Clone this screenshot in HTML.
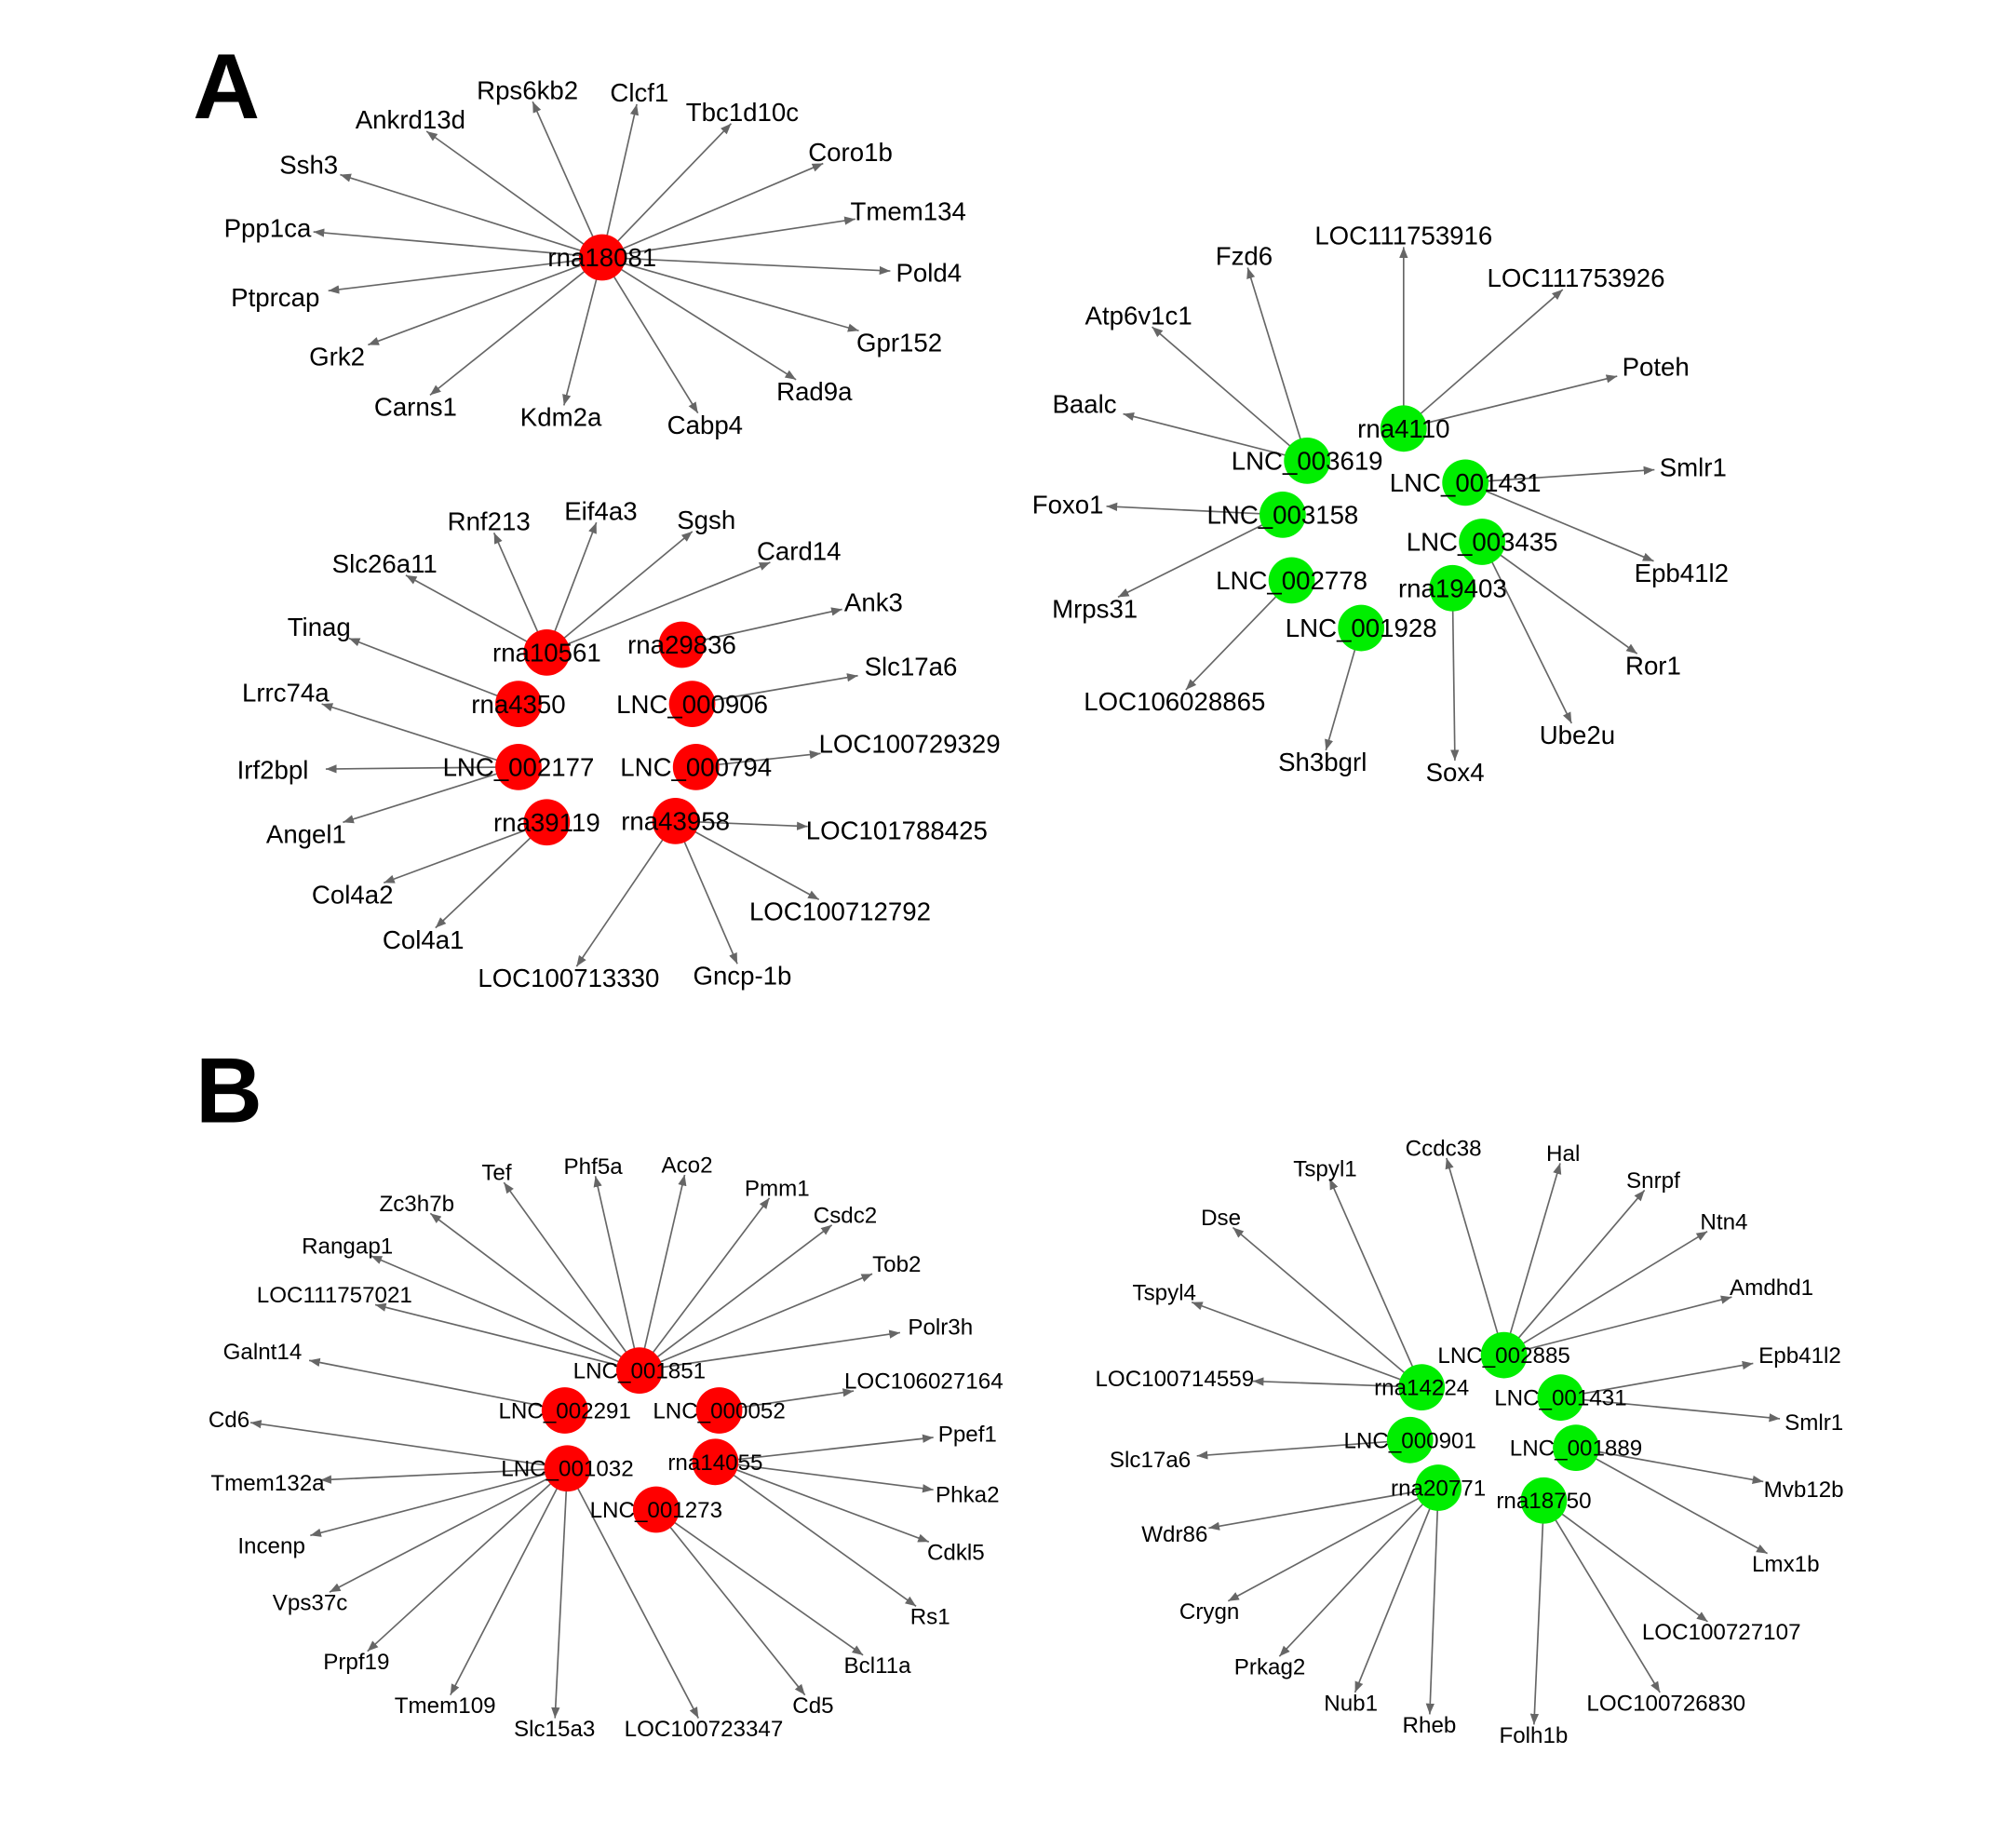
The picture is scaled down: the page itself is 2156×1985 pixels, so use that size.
<!DOCTYPE html>
<html><head><meta charset="utf-8"><style>
html,body{margin:0;padding:0;background:#fff;}
svg{display:block;}
text{font-family:"Liberation Sans",Arial,sans-serif;fill:#000;}
</style></head><body>
<svg id="net" width="2156" height="1985" viewBox="0 0 1560 1436" preserveAspectRatio="none" xmlns="http://www.w3.org/2000/svg">
<defs><marker id="arr" viewBox="0 0 10 10" refX="10" refY="5" markerWidth="7" markerHeight="7" orient="auto"><path d="M0,1 L10,5 L0,9 z" fill="#666"/></marker></defs>
<text x="150" y="92" font-size="72" font-weight="bold">A</text>
<text x="152" y="872" font-size="72" font-weight="bold">B</text>
<g id="edges"></g><g id="nodes"></g><g id="labels"></g>
</svg>
<script>
// hubs: name, x, y, color, fontSize
const hubNames=["rna18081","rna10561","rna29836","rna4350","LNC_000906","LNC_002177","LNC_000794","rna39119","rna43958",
"rna4110","LNC_003619","LNC_001431","LNC_003158","LNC_003435","LNC_002778","rna19403","LNC_001928",
"LNC_001851","LNC_002291","LNC_000052","LNC_001032","rna14055","LNC_001273",
"LNC_002885","rna14224","LNC_001431 ","LNC_000901","LNC_001889","rna20771","rna18750"];
const hubX=[468,425,530,403,538,403,541,425,525,1091,1016,1139,997,1152,1004,1129,1058,497,439,559,441,556,510,1169,1105,1213,1096,1225,1118,1200];
const hubY=[200,507,501,547,547,596,596,639,638,333,358,375,400,421,451,457,488,1065,1096,1096,1141,1136,1173,1053,1078,1086,1119,1125,1156,1166];
const hubColor=["r","r","r","r","r","r","r","r","r","g","g","g","g","g","g","g","g","r","r","r","r","r","r","g","g","g","g","g","g","g"];
// targets: hub index, name, label x, label y
const tgtHub=[0,0,0,0,0,0,0,0,0,0,0,0,0,0,0,0,
1,1,1,1,1,2,3,4,5,5,5,6,7,7,8,8,8,8,
9,9,9,10,10,10,11,11,12,12,13,13,14,15,16,
17,17,17,17,17,17,17,17,17,17,18,19,20,20,20,20,20,20,20,20,21,21,21,21,22,22,
24,24,24,24,23,23,23,23,23,25,25,27,27,26,28,28,28,28,28,29,29,29];
const tgtName=["Rps6kb2","Clcf1","Tbc1d10c","Coro1b","Tmem134","Pold4","Gpr152","Rad9a","Cabp4","Kdm2a","Carns1","Grk2","Ptprcap","Ppp1ca","Ssh3","Ankrd13d",
"Rnf213","Eif4a3","Sgsh","Card14","Slc26a11","Ank3","Tinag","Slc17a6","Lrrc74a","Irf2bpl","Angel1","LOC100729329","Col4a2","Col4a1","LOC101788425","LOC100712792","Gncp-1b","LOC100713330",
"LOC111753916","LOC111753926","Poteh","Fzd6","Atp6v1c1","Baalc","Smlr1","Epb41l2","Foxo1","Mrps31","Ror1","Ube2u","LOC106028865","Sox4","Sh3bgrl",
"Tef","Phf5a","Aco2","Pmm1","Csdc2","Tob2","Polr3h","Zc3h7b","Rangap1","LOC111757021","Galnt14","LOC106027164","Cd6","Tmem132a","Incenp","Vps37c","Prpf19","Tmem109","Slc15a3","LOC100723347","Ppef1","Phka2","Cdkl5","Rs1","Bcl11a","Cd5",
"Dse","Tspyl1","Tspyl4","LOC100714559","Ccdc38","Hal","Snrpf","Ntn4","Amdhd1","Epb41l2","Smlr1","Mvb12b","Lmx1b","Slc17a6","Wdr86","Crygn","Prkag2","Nub1","Rheb","Folh1b","LOC100726830","LOC100727107"];
const tgtX=[410,497,577,661,706,722,699,633,548,436,323,262,214,208,240,319,
380,467,549,621,299,679,248,708,222,212,238,707,274,329,697,653,577,442,
1091,1225,1287,967,885,843,1316,1307,830,851,1285,1226,913,1131,1028,
386,461,534,604,657,697,731,324,270,260,204,718,178,208,211,241,277,346,431,547,752,752,743,723,682,632,
949,1030,905,913,1122,1215,1285,1340,1377,1399,1410,1402,1388,894,913,940,987,1050,1111,1192,1295,1338];
const tgtY=[70,72,87,118,164,212,266,304,330,324,316,277,231,177,128,93,
405,397,404,428,438,468,487,518,538,598,648,578,695,730,645,708,758,760,
183,216,285,199,245,314,363,445,392,473,517,571,545,600,592,
911,906,905,923,944,982,1031,935,968,1006,1050,1073,1103,1152,1201,1245,1291,1325,1343,1343,1114,1161,1206,1256,1294,1325,
946,908,1004,1071,892,896,917,949,1000,1053,1105,1157,1215,1134,1192,1252,1295,1323,1340,1348,1323,1268];

const NS="http://www.w3.org/2000/svg";
const E=document.getElementById('edges'),N=document.getElementById('nodes'),L=document.getElementById('labels');
function fsFor(y){return y>820?17.5:20;}
function tw(s,fs){return s.length*fs*0.56;}
for(let i=0;i<tgtName.length;i++){
  const h=tgtHub[i],hx=hubX[h],hy=hubY[h],cx=tgtX[i],cy=tgtY[i];
  const fs=fsFor(cy),hw=tw(tgtName[i],fs)/2+2,hh=fs*0.45;
  const dx=hx-cx,dy=hy-cy;
  let t=Math.min(dx!==0?hw/Math.abs(dx):1e9, dy!==0?hh/Math.abs(dy):1e9);
  if(t>0.9)t=0.9;
  const tx=cx+dx*t,ty=cy+dy*t;
  const ln=document.createElementNS(NS,'line');
  ln.setAttribute('x1',hx);ln.setAttribute('y1',hy);ln.setAttribute('x2',tx);ln.setAttribute('y2',ty);
  ln.setAttribute('stroke','#666');ln.setAttribute('stroke-width','1.2');ln.setAttribute('marker-end','url(#arr)');
  
  
  E.appendChild(ln);
  const tx2=document.createElementNS(NS,'text');
  tx2.setAttribute('x',cx);tx2.setAttribute('y',cy+fs*0.35);tx2.setAttribute('font-size',fs);tx2.setAttribute('text-anchor','middle');
  tx2.textContent=tgtName[i];
  
  
  L.appendChild(tx2);
}
for(let h=0;h<hubNames.length;h++){
  const c=document.createElementNS(NS,'circle');
  c.setAttribute('cx',hubX[h]);c.setAttribute('cy',hubY[h]);c.setAttribute('r',18);
  c.setAttribute('fill',hubColor[h]==='r'?'#ff0000':'#00ee00');
  
  
  N.appendChild(c);
  const fs=fsFor(hubY[h]);
  const t=document.createElementNS(NS,'text');
  t.setAttribute('x',hubX[h]);t.setAttribute('y',hubY[h]+fs*0.35);t.setAttribute('font-size',fs);t.setAttribute('text-anchor','middle');
  t.textContent=hubNames[h].trim();
  
  
  L.appendChild(t);
}
</script>
</body></html>
